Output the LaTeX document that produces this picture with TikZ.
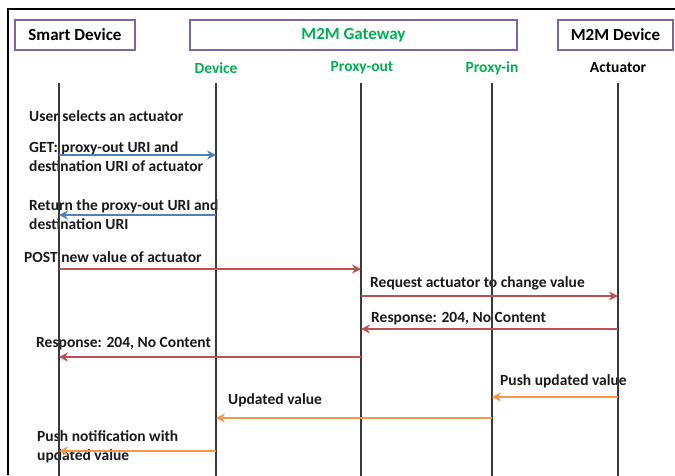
\documentclass[tikz,border=0pt]{standalone}
\usepackage{fontspec}
\setmainfont{Carlito}
\usetikzlibrary{arrows.meta}
\definecolor{frameP}{HTML}{8064A2}
\definecolor{gwGreen}{HTML}{00B050}
\definecolor{msgBlue}{HTML}{4F81BD}
\definecolor{msgRed}{HTML}{C0504D}
\definecolor{msgOrange}{HTML}{F79646}
\definecolor{lifeGray}{HTML}{3A3A3A}
\tikzset{
  party/.style={draw=frameP, line width=2pt, minimum height=30pt, inner sep=0pt,
    font=\fontsize{17}{19}\selectfont\bfseries},
  role/.style={font=\fontsize{15.5}{17}\selectfont\bfseries, inner sep=0pt},
  lifeline/.style={lifeGray, line width=1.2pt},
  msgtext/.style={font=\fontsize{15.5}{19}\selectfont\bfseries, inner sep=0pt,
    align=left, anchor=west, text=black!90},
  msg/.style={line width=2.4pt, -{Stealth[length=9pt,width=9pt,inset=3pt]}},
}
\begin{document}
\begin{tikzpicture}[x=1pt,y=-1pt]
\useasboundingbox (0,0) rectangle (675,475);
% outer frame (left and top edges)
\draw[line width=2.5pt] (8,475) -- (8,9) -- (676,9);

% participants
\node[party, minimum width=120pt] (sd) at (75,35) {Smart Device};
\node[party, minimum width=327pt, text=gwGreen] (gw) at (353.5,35) {M2M Gateway};
\node[party, minimum width=115pt] (md) at (615.5,35) {M2M Device};

% roles
\node[role, text=gwGreen] (dev) at (216,68) {Device};
\node[role, text=gwGreen] (pout) at (362,68) {Proxy-out};
\node[role, text=gwGreen] (pin) at (492,68) {Proxy-in};
\node[role] (act) at (618,68) {Actuator};

% lifeline ends
\coordinate (lsT) at (59,83);   \coordinate (lsB) at (59,476);
\coordinate (ldT) at (216,83);  \coordinate (ldB) at (216,476);
\coordinate (loT) at (361,83);  \coordinate (loB) at (361,476);
\coordinate (liT) at (492,83);  \coordinate (liB) at (492,476);
\coordinate (laT) at (618,83);  \coordinate (laB) at (618,476);

% message labels
\node[msgtext] (t0) at (29,116) {User selects an actuator};
\node[msgtext] (t1) at (29,156.5) {GET: proxy-out URI and\\destination URI of actuator};
\node[msgtext] (t2) at (29,214.5) {Return the proxy-out URI and\\destination URI};
\node[msgtext] (t3) at (24,257) {POST new value of actuator};
\node[msgtext] (t4) at (370,283) {Request actuator to change value};
\node[msgtext] (t5) at (371,319) {Response: 204, No Content};
\node[msgtext] (t6) at (36,344) {Response: 204, No Content};
\node[msgtext] (t7) at (500,381) {Push updated value};
\node[msgtext] (t8) at (228,400) {Updated value};
\node[msgtext] (t9) at (37,446.5) {Push notification with\\updated value};

% lifelines
\foreach \l in {ls,ld,lo,li,la}
  \draw[lifeline] (\l T) -- (\l B);

% message end points
\coordinate (m1a) at (59,155);  \coordinate (m1b) at (216,155);
\coordinate (m2a) at (216,215); \coordinate (m2b) at (59,215);
\coordinate (m3a) at (59,269);  \coordinate (m3b) at (361,269);
\coordinate (m4a) at (361,296); \coordinate (m4b) at (618,296);
\coordinate (m5a) at (618,329); \coordinate (m5b) at (361,329);
\coordinate (m6a) at (361,357); \coordinate (m6b) at (59,357);
\coordinate (m7a) at (618,397); \coordinate (m7b) at (492,397);
\coordinate (m8a) at (492,418); \coordinate (m8b) at (216,418);
\coordinate (m9a) at (216,451); \coordinate (m9b) at (59,451);

% messages
\draw[msg, msgBlue] (m1a) -- (m1b);
\draw[msg, msgBlue] (m2a) -- (m2b);
\draw[msg, msgRed] (m3a) -- (m3b);
\draw[msg, msgRed] (m4a) -- (m4b);
\draw[msg, msgRed] (m5a) -- (m5b);
\draw[msg, msgRed] (m6a) -- (m6b);
\draw[msg, msgOrange] (m7a) -- (m7b);
\draw[msg, msgOrange] (m8a) -- (m8b);
\draw[msg, msgOrange] (m9a) -- (m9b);
\end{tikzpicture}
\end{document}
